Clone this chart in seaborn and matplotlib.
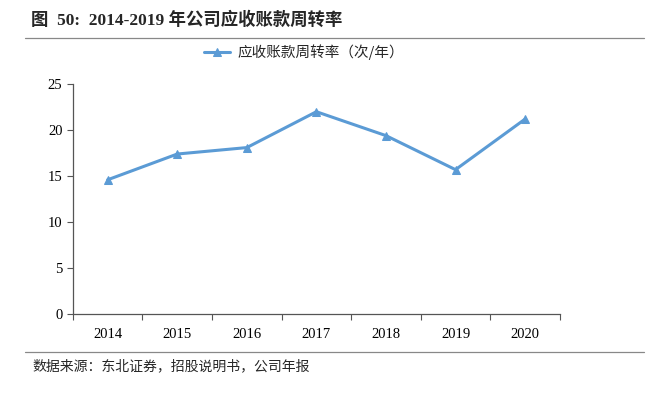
import numpy as np
import pandas as pd
import matplotlib
matplotlib.use('Agg')
import matplotlib.pyplot as plt
from matplotlib.ticker import FixedLocator
import seaborn as sns

sns.set_theme(style='white')
plt.rcParams['font.family'] = ['Liberation Serif', 'Noto Sans CJK SC', 'DejaVu Sans']

years = ['2014', '2015', '2016', '2017', '2018', '2019', '2020']
turnover = [14.6, 17.4, 18.1, 22.0, 19.4, 15.7, 21.2]
series_name = '应收账款周转率（次/年）'
title = '图  50:  2014-2019 年公司应收账款周转率'
source = '数据来源：东北证券，招股说明书，公司年报'

df = pd.DataFrame({'year': years, 'value': turnover})
df['pos'] = np.arange(len(years))

fig = plt.figure(figsize=(6.51, 3.95), dpi=100)
ax = fig.add_axes([0.112, 0.205, 0.748, 0.582])

sns.lineplot(data=df, x='pos', y='value', ax=ax, color='#5B9BD5', linewidth=2.2,
             marker='^', markersize=6, markeredgecolor='#5B9BD5', label=series_name)

ax.set_xlim(-0.5, len(years) - 0.5)
ax.set_ylim(0, 25)
ax.set_yticks([0, 5, 10, 15, 20, 25])
ax.set_xticks(df['pos'])
ax.set_xticklabels(years)
ax.xaxis.set_minor_locator(FixedLocator(np.arange(-0.5, len(years), 1.0)))
ax.tick_params(axis='x', which='major', length=0, pad=10, labelsize=10.5, colors='black')
ax.tick_params(axis='x', which='minor', length=4, width=0.8, direction='out', color='#555555', bottom=True)
ax.tick_params(axis='y', length=4, width=0.8, direction='out', color='#555555', left=True, labelsize=10.5, colors='black')
ax.set_xlabel('')
ax.set_ylabel('')
for s in ['top', 'right']:
    ax.spines[s].set_visible(False)
for s in ['left', 'bottom']:
    ax.spines[s].set_color('#555555')
    ax.spines[s].set_linewidth(0.9)
ax.tick_params(axis='y', colors='#555555', labelcolor='black')

leg = ax.legend(loc='center', bbox_to_anchor=(0.475, 1.14), frameon=False,
                fontsize=10.5, handlelength=1.8, handletextpad=0.5, borderaxespad=0)
for t in leg.get_texts():
    t.set_fontfamily(['Noto Sans CJK SC', 'DejaVu Sans'])

fig.text(0.048, 0.948, title, fontsize=12.5, fontweight='bold', ha='left', va='center')
fig.add_artist(plt.Line2D([0.038, 0.99], [0.905, 0.905], color='#888888', linewidth=0.9))
fig.add_artist(plt.Line2D([0.038, 0.99], [0.108, 0.108], color='#888888', linewidth=0.9))
fig.text(0.05, 0.072, source, fontsize=10, ha='left', va='center',
         family=['Noto Sans CJK SC', 'DejaVu Sans'])

plt.savefig('out.png', dpi=100)
plt.close()
